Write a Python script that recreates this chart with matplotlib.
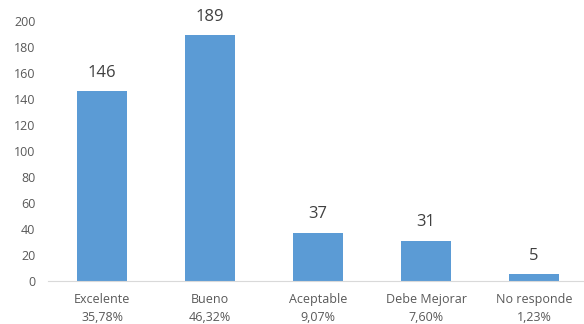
import matplotlib.pyplot as plt
import numpy as np

categories = ["Excelente", "Bueno", "Aceptable", "Debe Mejorar", "No responde"]
percents = ["35,78%", "46,32%", "9,07%", "7,60%", "1,23%"]
counts = [146, 189, 37, 31, 5]

plt.rcParams['font.family'] = ['Open Sans', 'DejaVu Sans']

fig = plt.figure(figsize=(5.84, 3.24), dpi=100)
ax = fig.add_axes([48 / 584, 0.133, 540 / 584, 0.802])

x = np.arange(len(categories))
bars = ax.bar(x, counts, width=0.46, color="#5B9BD5")

for b, v in zip(bars, counts):
	ax.text(b.get_x() + b.get_width() / 2, v + 8, str(v), ha="center", va="bottom",
		fontsize=12, color="#404040")

ax.set_xlim(-0.5, len(categories) - 0.5)
ax.set_ylim(0, 200)
ax.set_yticks(range(0, 201, 20))
ax.set_xticks(x)
ax.set_xticklabels([c + "\n" + p for c, p in zip(categories, percents)], linespacing=1.5)
ax.tick_params(axis="both", length=0, labelsize=9, labelcolor="#595959")
ax.tick_params(axis="x", pad=9)
ax.tick_params(axis="y", pad=9)

for s in ["top", "right", "left"]:
	ax.spines[s].set_visible(False)
ax.spines["bottom"].set_color("#D9D9D9")

fig.savefig("out.png", dpi=100)
